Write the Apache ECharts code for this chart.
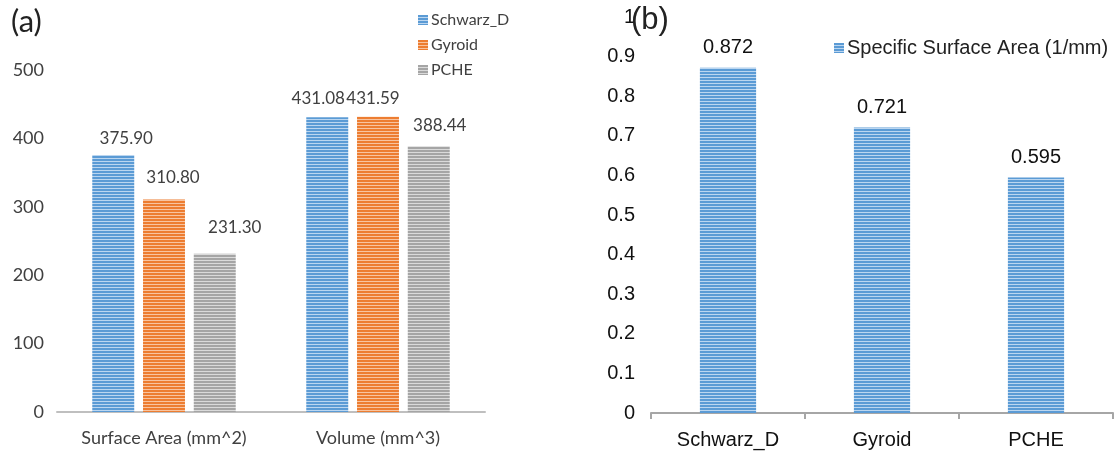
<!DOCTYPE html>
<html>
<head>
<meta charset="utf-8">
<script src="https://cdn.jsdelivr.net/npm/echarts@6/dist/echarts.min.js"></script>
<style>
  html, body { margin: 0; padding: 0; background: #fff; }
  #chart { width: 1120px; height: 453px; }
</style>
</head>
<body>
<div id="chart"></div>
<script>
// Panel (a): surface area and volume per lattice type
const metricsA = ['Surface Area (mm^2)', 'Volume (mm^3)'];
const schwarzD = [375.90, 431.08];
const gyroid = [310.80, 431.59];
const pche = [231.30, 388.44];
const ticksA = [0, 100, 200, 300, 400, 500];

// Panel (b): specific surface area
const typesB = ['Schwarz_D', 'Gyroid', 'PCHE'];
const specificArea = [0.872, 0.721, 0.595];
const ticksB = [0, 0.1, 0.2, 0.3, 0.4, 0.5, 0.6, 0.7, 0.8, 0.9, 1];

// Horizontal striped fill, like an office "horizontal lines" pattern
function stripes(base, light) {
  const c = document.createElement('canvas');
  c.width = 4; c.height = 3;
  const g = c.getContext('2d');
  g.fillStyle = base; g.fillRect(0, 0, 4, 3);
  g.fillStyle = light; g.fillRect(0, 2, 4, 1);
  return { image: c, repeat: 'repeat' };
}
const blueFill = stripes('#5B9BD5', '#BBD6F0');
const orangeFill = stripes('#ED7D31', '#F8C4A0');
const grayFill = stripes('#A5A5A5', '#DADADA');
const blueFillB = stripes('#5B9BD5', '#BBD6F0');

const fontA = 'Lato, "Open Sans", sans-serif';
const fontB = '"Liberation Sans", Arial, sans-serif';

// small nudges so value labels sit where they read best
const nudgeA = {
  'Schwarz_D': [[13, -3], [-9, -5]],
  'Gyroid': [[9, -8], [-5, -5]],
  'PCHE': [[20, -13], [11, -7]]
};

function seriesA(name, values, fill) {
  return {
    name: name,
    type: 'bar',
    xAxisIndex: 0, yAxisIndex: 0,
    barWidth: '19.6%',
    barGap: '21%',
    itemStyle: { color: fill },
    data: values.map((v, i) => ({
      value: v,
      label: { offset: nudgeA[name][i] }
    })),
    label: {
      show: true, position: 'top', distance: 5,
      formatter: p => p.value.toFixed(2),
      fontFamily: fontA, fontSize: 17, color: '#404040'
    }
  };
}

const chart = echarts.init(document.getElementById('chart'), null, { renderer: 'canvas' });
chart.setOption({
  animation: false,
  backgroundColor: '#fff',
  title: [
    { text: '(a)', left: 6, top: 1, textStyle: { fontFamily: fontA, fontSize: 31, fontWeight: 'normal', color: '#222' } },
    { text: '(b)', left: 626, top: 0, textStyle: { fontFamily: fontB, fontSize: 31, fontWeight: 'normal', color: '#222' } }
  ],
  legend: [
    {
      data: ['Schwarz_D', 'Gyroid', 'PCHE'],
      orient: 'vertical', left: 413, top: 7,
      itemWidth: 10, itemHeight: 10, itemGap: 9,
      icon: 'rect',
      textStyle: { fontFamily: fontA, fontSize: 16, color: '#404040', padding: [0, 0, 0, -2] }
    },
    {
      data: ['Specific Surface Area (1/mm)'],
      left: 829, top: 33,
      itemWidth: 10, itemHeight: 10,
      icon: 'rect',
      textStyle: { fontFamily: fontB, fontSize: 20, color: '#222', padding: [0, 0, 0, -2] }
    }
  ],
  grid: [
    { left: 57, right: 635, top: 70, bottom: 41 },
    { left: 651, right: 7, top: 17, bottom: 40 }
  ],
  xAxis: [
    {
      gridIndex: 0, type: 'category', data: metricsA,
      axisLine: { lineStyle: { color: '#BFBFBF', width: 2 } },
      axisTick: { show: false },
      axisLabel: { interval: 0, fontFamily: fontA, fontSize: 18, color: '#404040', margin: 17 }
    },
    {
      gridIndex: 1, type: 'category', data: typesB,
      axisLine: { lineStyle: { color: '#A6A6A6', width: 2 } },
      axisTick: { show: true, length: 6, lineStyle: { color: '#A6A6A6', width: 2 } },
      axisLabel: { interval: 0, fontFamily: fontB, fontSize: 20, color: '#111', margin: 17 }
    }
  ],
  yAxis: [
    {
      gridIndex: 0, type: 'value', min: ticksA[0], max: ticksA[ticksA.length - 1], interval: 100,
      axisLine: { show: false }, axisTick: { show: false }, splitLine: { show: false },
      axisLabel: { fontFamily: fontA, fontSize: 18, color: '#404040', margin: 13 }
    },
    {
      gridIndex: 1, type: 'value', min: ticksB[0], max: ticksB[ticksB.length - 1], interval: 0.1,
      axisLine: { show: false }, axisTick: { show: false }, splitLine: { show: false },
      axisLabel: { fontFamily: fontB, fontSize: 20, color: '#111', margin: 16,
        formatter: v => String(Math.round(v * 10) / 10) }
    }
  ],
  series: [
    seriesA('Schwarz_D', schwarzD, blueFill),
    seriesA('Gyroid', gyroid, orangeFill),
    seriesA('PCHE', pche, grayFill),
    {
      name: 'Specific Surface Area (1/mm)',
      type: 'bar',
      xAxisIndex: 1, yAxisIndex: 1,
      barWidth: '36.5%',
      itemStyle: { color: blueFillB },
      data: specificArea,
      label: {
        show: true, position: 'top', distance: 10,
        formatter: p => p.value.toFixed(3),
        fontFamily: fontB, fontSize: 20, color: '#111'
      }
    }
  ]
});
</script>
</body>
</html>
